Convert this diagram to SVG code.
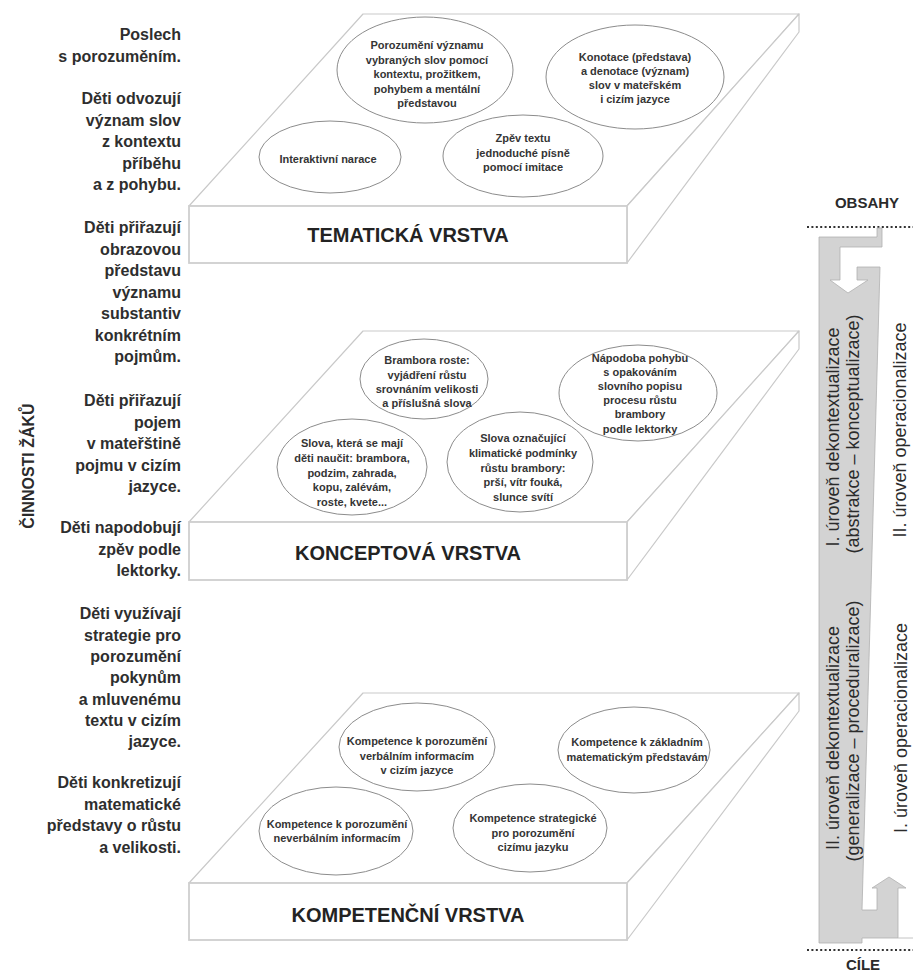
<svg xmlns="http://www.w3.org/2000/svg" width="913" height="979" viewBox="0 0 913 979">
  <style>
    .slab { fill: #ffffff; stroke: #c9c9c9; stroke-width: 1.2; stroke-linejoin: round; }
    .front { fill: #ffffff; stroke: #cfcfcf; stroke-width: 1.8; }
    .oval { fill: #ffffff; stroke: #8c8c8c; stroke-width: 1; }
    .et { font-family: "Liberation Sans", Arial, sans-serif; font-weight: bold; font-size: 11px; fill: #353535; text-anchor: middle; }
    .lt { font-family: "Liberation Sans", Arial, sans-serif; font-weight: bold; font-size: 16px; fill: #2e2e2e; text-anchor: end; }
    .lab { font-family: "Liberation Sans", Arial, sans-serif; font-weight: bold; font-size: 20px; fill: #232323; text-anchor: middle; }
    .vt { font-family: "Liberation Sans", Arial, sans-serif; font-size: 18px; fill: #2b2b2b; text-anchor: middle; }
    .hd { font-family: "Liberation Sans", Arial, sans-serif; font-weight: bold; font-size: 15px; fill: #2b2b2b; text-anchor: middle; }
    .dots { stroke: #333; stroke-width: 2.2; stroke-dasharray: 2 2.4; fill: none; }
  </style>

  <rect width="913" height="979" fill="#ffffff"/>

  <!-- left column: pupil activities -->
  <g id="cinnosti">
    <text class="hd" style="font-size:16px" transform="translate(34,466) rotate(-90)">ČINNOSTI ŽÁKŮ</text>
    <text class="lt" x="181" y="40">Poslech</text>
    <text class="lt" x="181" y="62">s porozuměním.</text>
    <text class="lt" x="181" y="104">Děti odvozují</text>
    <text class="lt" x="181" y="125.5">význam slov</text>
    <text class="lt" x="181" y="147">z kontextu</text>
    <text class="lt" x="181" y="168.5">příběhu</text>
    <text class="lt" x="181" y="190">a z pohybu.</text>
    <text class="lt" x="181" y="233">Děti přiřazují</text>
    <text class="lt" x="181" y="254.5">obrazovou</text>
    <text class="lt" x="181" y="276">představu</text>
    <text class="lt" x="181" y="297.5">významu</text>
    <text class="lt" x="181" y="319">substantiv</text>
    <text class="lt" x="181" y="340.5">konkrétním</text>
    <text class="lt" x="181" y="362">pojmům.</text>
    <text class="lt" x="181" y="406">Děti přiřazují</text>
    <text class="lt" x="181" y="427.5">pojem</text>
    <text class="lt" x="181" y="449">v mateřštině</text>
    <text class="lt" x="181" y="470.5">pojmu v cizím</text>
    <text class="lt" x="181" y="492">jazyce.</text>
    <text class="lt" x="181" y="533">Děti napodobují</text>
    <text class="lt" x="181" y="554.5">zpěv podle</text>
    <text class="lt" x="181" y="576">lektorky.</text>
    <text class="lt" x="181" y="619">Děti využívají</text>
    <text class="lt" x="181" y="640.5">strategie pro</text>
    <text class="lt" x="181" y="662">porozumění</text>
    <text class="lt" x="181" y="683">pokynům</text>
    <text class="lt" x="181" y="704.5">a mluvenému</text>
    <text class="lt" x="181" y="725.5">textu v cizím</text>
    <text class="lt" x="181" y="746.5">jazyce.</text>
    <text class="lt" x="181" y="788">Děti konkretizují</text>
    <text class="lt" x="181" y="809.5">matematické</text>
    <text class="lt" x="181" y="831">představy o růstu</text>
    <text class="lt" x="181" y="852.5">a velikosti.</text>
  </g>

  <!-- layer 1: thematic -->
  <g id="tematicka-vrstva">
    <polygon class="slab" points="363,14 799,14 627,206 189,206"/>
    <polygon class="slab" points="627,206 799,14 799,32 627,263"/>
    <rect class="front" x="189" y="206" width="438" height="57"/>
    <text class="lab" x="408" y="242">TEMATICKÁ VRSTVA</text>
  </g>
  <g id="t-porozumeni">
    <ellipse class="oval" cx="425" cy="70" rx="88" ry="53"/>
    <text class="et" x="427" y="49">Porozumění významu</text>
    <text class="et" x="427" y="63.5">vybraných slov pomocí</text>
    <text class="et" x="427" y="78">kontextu, prožitkem,</text>
    <text class="et" x="427" y="92.5">pohybem a mentální</text>
    <text class="et" x="427" y="107">představou</text>
  </g>
  <g id="t-konotace">
    <ellipse class="oval" cx="635" cy="77" rx="89" ry="52"/>
    <text class="et" x="635" y="61">Konotace (představa)</text>
    <text class="et" x="635" y="75">a denotace (význam)</text>
    <text class="et" x="635" y="89">slov v mateřském</text>
    <text class="et" x="635" y="103">i cizím jazyce</text>
  </g>
  <g id="t-narace">
    <ellipse class="oval" cx="330" cy="157" rx="71" ry="36"/>
    <text class="et" x="328" y="163">Interaktivní narace</text>
  </g>
  <g id="t-zpev">
    <ellipse class="oval" cx="523" cy="156" rx="80" ry="41"/>
    <text class="et" x="523" y="142">Zpěv textu</text>
    <text class="et" x="523" y="157">jednoduché písně</text>
    <text class="et" x="523" y="171">pomocí imitace</text>
  </g>

  <!-- layer 2: conceptual -->
  <g id="konceptova-vrstva">
    <polygon class="slab" points="363,331 799,331 627,522 189,522"/>
    <polygon class="slab" points="627,522 799,331 799,349 627,580"/>
    <rect class="front" x="189" y="522" width="438" height="58"/>
    <text class="lab" x="408" y="560">KONCEPTOVÁ VRSTVA</text>
  </g>
  <g id="k-brambora">
    <ellipse class="oval" cx="424" cy="379" rx="64" ry="40"/>
    <text class="et" x="427" y="364">Brambora roste:</text>
    <text class="et" x="427" y="378.5">vyjádření růstu</text>
    <text class="et" x="427" y="393">srovnáním velikosti</text>
    <text class="et" x="427" y="407">a příslušná slova</text>
  </g>
  <g id="k-napodoba">
    <ellipse class="oval" cx="638" cy="393" rx="79" ry="48"/>
    <text class="et" x="640" y="362">Nápodoba pohybu</text>
    <text class="et" x="640" y="376">s opakováním</text>
    <text class="et" x="640" y="390">slovního popisu</text>
    <text class="et" x="640" y="404">procesu růstu</text>
    <text class="et" x="640" y="418">brambory</text>
    <text class="et" x="640" y="432.5">podle lektorky</text>
  </g>
  <g id="k-slova">
    <ellipse class="oval" cx="352" cy="467" rx="75" ry="48"/>
    <text class="et" x="352" y="447">Slova, která se mají</text>
    <text class="et" x="352" y="462">děti naučit: brambora,</text>
    <text class="et" x="352" y="476.5">podzim, zahrada,</text>
    <text class="et" x="352" y="491">kopu, zalévám,</text>
    <text class="et" x="352" y="506">roste, kvete...</text>
  </g>
  <g id="k-klima">
    <ellipse class="oval" cx="520" cy="462" rx="73" ry="50"/>
    <text class="et" x="523" y="442">Slova označující</text>
    <text class="et" x="523" y="457">klimatické podmínky</text>
    <text class="et" x="523" y="471.5">růstu brambory:</text>
    <text class="et" x="523" y="486">prší, vítr fouká,</text>
    <text class="et" x="523" y="501">slunce svítí</text>
  </g>

  <!-- layer 3: competences -->
  <g id="kompetencni-vrstva">
    <polygon class="slab" points="363,693 799,693 627,883 189,883"/>
    <polygon class="slab" points="627,883 799,693 799,711 627,940"/>
    <rect class="front" x="189" y="883" width="438" height="57"/>
    <text class="lab" x="408" y="922">KOMPETENČNÍ VRSTVA</text>
  </g>
  <g id="c-verbalni">
    <ellipse class="oval" cx="417" cy="747" rx="78" ry="44"/>
    <text class="et" x="417" y="745">Kompetence k porozumění</text>
    <text class="et" x="417" y="760">verbálním informacím</text>
    <text class="et" x="417" y="774">v cizím jazyce</text>
  </g>
  <g id="c-matematicke">
    <ellipse class="oval" cx="634" cy="750" rx="76" ry="43"/>
    <text class="et" x="637" y="746">Kompetence k základním</text>
    <text class="et" x="637" y="761">matematickým představám</text>
  </g>
  <g id="c-neverbalni">
    <ellipse class="oval" cx="336" cy="831" rx="77" ry="44"/>
    <text class="et" x="337" y="828">Kompetence k porozumění</text>
    <text class="et" x="337" y="842">neverbálním informacím</text>
  </g>
  <g id="c-strategicke">
    <ellipse class="oval" cx="530" cy="828" rx="77" ry="44"/>
    <text class="et" x="533" y="822">Kompetence strategické</text>
    <text class="et" x="533" y="837">pro porozumění</text>
    <text class="et" x="533" y="851">cizímu jazyku</text>
  </g>

  <!-- right side: process band between contents and goals -->
  <g id="connectors">
    <line class="dots" x1="807" y1="227" x2="913" y2="227"/>
    <line class="dots" x1="807" y1="950" x2="913" y2="950"/>
    <path d="M819,237 L877,237 L877,228 L882,228 L882,247 L840,247 L840,280 L830,280 L848,293 L868,280 L857,280 L857,267 L880,267 L862,910 L877,910 L877,888 L872,888 L889,877 L906,888 L898,888 L898,938 L862,938 L862,943 L819,943 Z" fill="#d3d3d3" stroke="#b0b0b0" stroke-width="0.8"/>
    <line x1="898" y1="938" x2="913" y2="938" stroke="#c4c4c4" stroke-width="1"/>
  </g>
  <g id="obsahy">
    <text class="hd" x="867" y="208">OBSAHY</text>
  </g>
  <g id="cile">
    <text class="hd" x="863" y="970">CÍLE</text>
  </g>
  <g id="dekontextualizace-1">
    <text class="vt" transform="translate(839,437) rotate(-90)">I. úroveň dekontextualizace</text>
    <text class="vt" transform="translate(859,434) rotate(-90)">(abstrakce – konceptualizace)</text>
  </g>
  <g id="operacionalizace-2">
    <text class="vt" transform="translate(906,430) rotate(-90)">II. úroveň operacionalizace</text>
  </g>
  <g id="dekontextualizace-2">
    <text class="vt" transform="translate(839,738) rotate(-90)">II. úroveň dekontextualizace</text>
    <text class="vt" transform="translate(859,731) rotate(-90)">(generalizace – proceduralizace)</text>
  </g>
  <g id="operacionalizace-1">
    <text class="vt" transform="translate(907,728) rotate(-90)">I. úroveň operacionalizace</text>
  </g>
</svg>
